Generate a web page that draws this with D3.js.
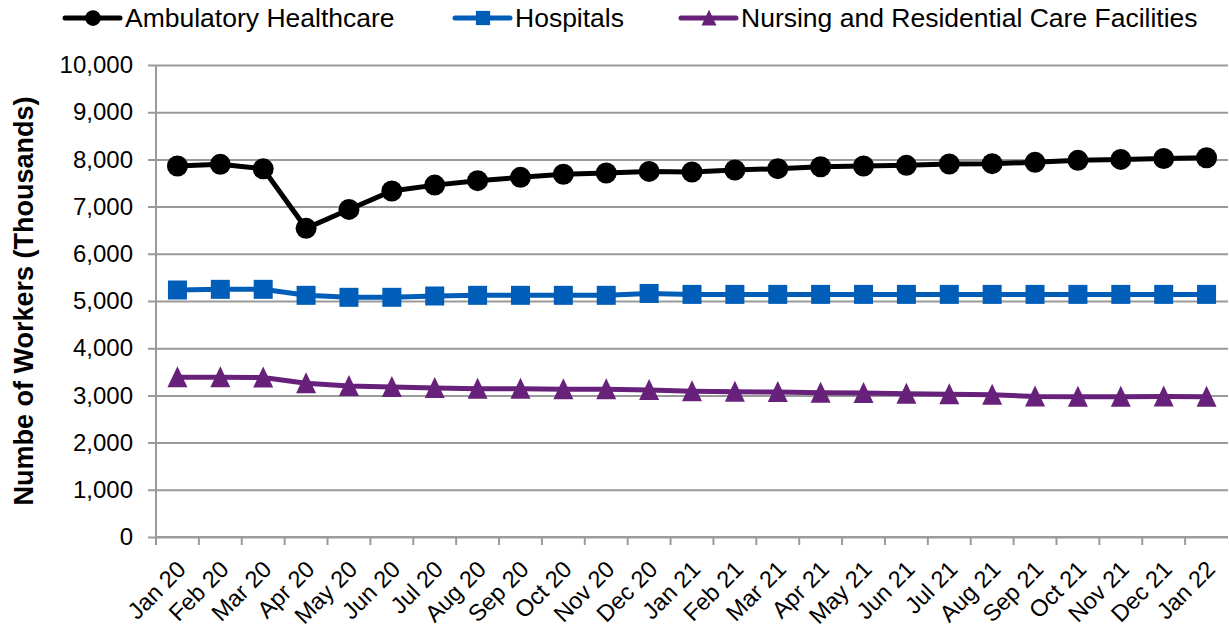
<!DOCTYPE html>
<html>
<head>
<meta charset="utf-8">
<script src="https://cdn.jsdelivr.net/npm/d3@7"></script>
<style>
  body { margin: 0; background: #fff; }
  svg { font-family: "Liberation Sans", Arial, sans-serif; }
</style>
</head>
<body>
<svg width="1229" height="630"></svg>
<script>
const months = ["Jan 20","Feb 20","Mar 20","Apr 20","May 20","Jun 20","Jul 20","Aug 20","Sep 20","Oct 20","Nov 20","Dec 20",
  "Jan 21","Feb 21","Mar 21","Apr 21","May 21","Jun 21","Jul 21","Aug 21","Sep 21","Oct 21","Nov 21","Dec 21","Jan 22"];

const ambulatory = [7860,7895,7800,6540,6940,7330,7455,7550,7620,7685,7712,7745,
  7733,7775,7803,7845,7860,7874,7903,7910,7938,7980,8000,8020,8035];
const hospitals = [5233,5247,5247,5120,5078,5078,5106,5120,5120,5120,5120,5160,
  5140,5140,5140,5140,5140,5140,5140,5140,5140,5140,5140,5140,5140];
const nursing = [3383,3383,3380,3256,3199,3178,3157,3142,3142,3131,3128,3114,
  3090,3079,3072,3058,3051,3037,3023,3016,2977,2973,2973,2975,2970];

const yTicks = [0,1000,2000,3000,4000,5000,6000,7000,8000,9000,10000];

const series = [
  {name: "Ambulatory Healthcare", vals: ambulatory, color: "#000000", shape: "circle"},
  {name: "Hospitals", vals: hospitals, color: "#005EB8", shape: "square"},
  {name: "Nursing and Residential Care Facilities", vals: nursing, color: "#68217A", shape: "triangle"}
];

const m = {top: 65, right: 1, bottom: 93, left: 156};
const W = 1229, H = 630;
const gW = W - m.left - m.right, gH = H - m.top - m.bottom;

const svg = d3.select("svg");
const g = svg.append("g").attr("transform", `translate(${m.left},${m.top})`);

const x = d3.scaleBand().domain(months).range([0, gW]);
const y = d3.scaleLinear().domain([0, 10000]).range([gH, 0]);

// gridlines + y axis
g.append("g")
  .call(d3.axisLeft(y).tickValues(yTicks).tickSize(-gW).tickPadding(23).tickFormat(d3.format(",")))
  .call(a => a.select(".domain").remove())
  .call(a => a.selectAll("line").attr("stroke", "#9a9a9a").attr("stroke-width", 2).attr("x1", -8))
  .call(a => a.selectAll("text").attr("font-size", 24).attr("fill", "#000"));

g.append("line").attr("x1", 0).attr("x2", 0).attr("y1", 0).attr("y2", gH)
  .attr("stroke", "#9a9a9a").attr("stroke-width", 2);

// x axis
const xa = g.append("g").attr("transform", `translate(0,${gH})`);
xa.append("line").attr("x1", 0).attr("x2", gW).attr("stroke", "#9a9a9a").attr("stroke-width", 2);
xa.selectAll("line.tk").data(months).enter().append("line")
  .attr("class", "tk")
  .attr("x1", d => x(d)).attr("x2", d => x(d))
  .attr("y1", 0).attr("y2", 8)
  .attr("stroke", "#9a9a9a").attr("stroke-width", 2);
xa.selectAll("text").data(months).enter().append("text")
  .attr("transform", d => `translate(${x(d) + x.bandwidth()/2 + 4},28) rotate(-45)`)
  .attr("text-anchor", "end")
  .attr("dy", "0.35em")
  .attr("font-size", 23.5)
  .text(d => d);

// y label
svg.append("text")
  .attr("transform", `translate(33,${m.top + gH/2}) rotate(-90)`)
  .attr("text-anchor", "middle")
  .attr("font-size", 27)
  .attr("font-weight", "bold")
  .text("Numbe of Workers (Thousands)");

const line = d3.line().x((d, i) => x(months[i]) + x.bandwidth()/2).y(d => y(d));

function marker(sel, shape, color) {
  if (shape === "circle") {
    sel.append("circle").attr("r", 10.5).attr("fill", color);
  } else if (shape === "square") {
    sel.append("rect").attr("x", -9.5).attr("y", -9.5).attr("width", 19).attr("height", 19).attr("fill", color);
  } else {
    sel.append("path").attr("d", "M0,-11L10,10L-10,10Z").attr("fill", color);
  }
}

series.forEach(s => {
  g.append("path").datum(s.vals)
    .attr("d", line)
    .attr("fill", "none")
    .attr("stroke", s.color)
    .attr("stroke-width", 5);
  g.selectAll(null).data(s.vals).enter().append("g")
    .attr("transform", (d, i) => `translate(${x(months[i]) + x.bandwidth()/2},${y(d)})`)
    .each(function() { marker(d3.select(this), s.shape, s.color); });
});

// legend
const legX = [65, 455, 681];
series.forEach((s, i) => {
  const lg = svg.append("g").attr("transform", `translate(${legX[i]},18)`);
  lg.append("line").attr("x1", 0).attr("x2", 55).attr("stroke", s.color).attr("stroke-width", 5).attr("stroke-linecap", "round");
  const mk = lg.append("g").attr("transform", "translate(28,0) scale(0.75)");
  marker(mk, s.shape, s.color);
  lg.append("text").attr("x", 60).attr("dy", "0.35em").attr("font-size", 26.5).text(s.name);
});
</script>
</body>
</html>
